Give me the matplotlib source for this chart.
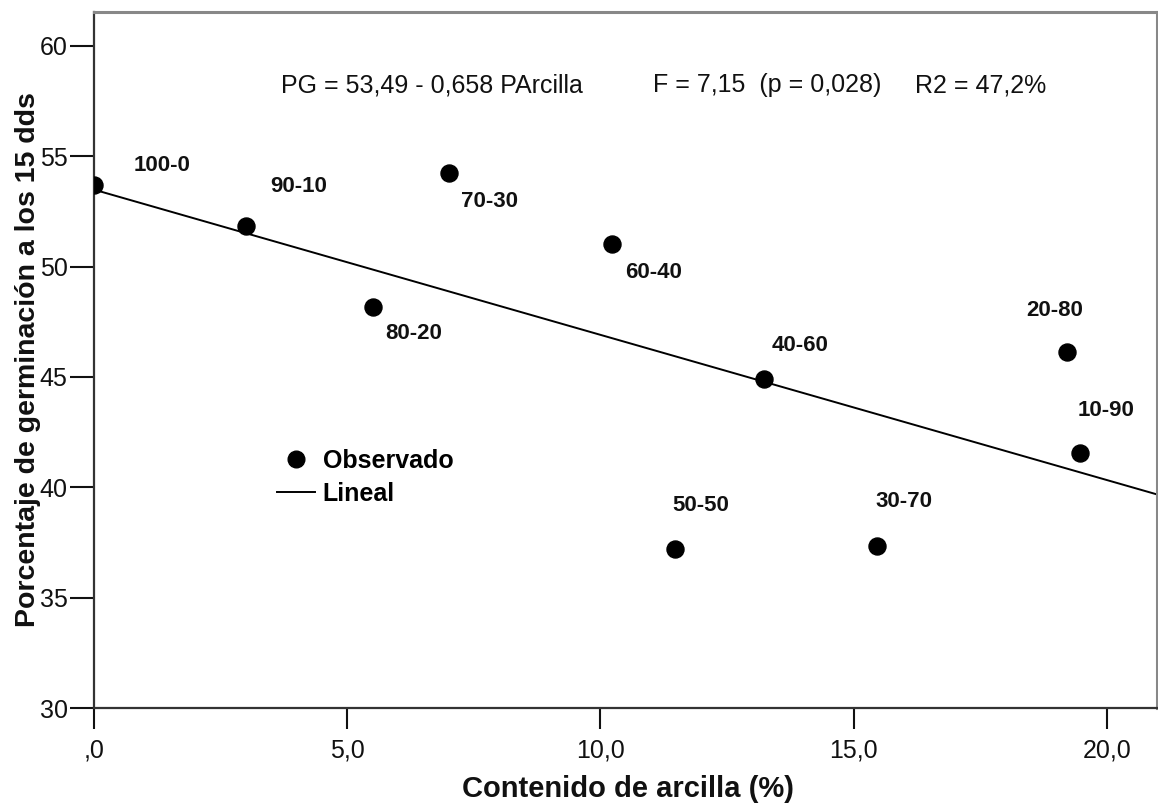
import matplotlib
matplotlib.use("Agg")
import matplotlib.pyplot as plt
from matplotlib.lines import Line2D

plt.rcParams['font.family'] = ['Liberation Sans', 'DejaVu Sans']

# Data
clay = [0.0, 3.0, 5.5, 7.0, 10.22, 13.23, 19.22, 19.46, 11.47, 15.47]
germ = [53.7, 51.84, 48.17, 54.25, 51.03, 44.91, 46.12, 41.55, 37.19, 37.35]
labels = ["100-0", "90-10", "80-20", "70-30", "60-40", "40-60", "20-80", "10-90", "50-50", "30-70"]
intercept = 53.49
slope = -0.658
x_ticks = [0, 5, 10, 15, 20]
x_ticklabels = [",0", "5,0", "10,0", "15,0", "20,0"]
y_ticks = [30, 35, 40, 45, 50, 55, 60]

# label offsets in pixels (styling)
offsets = [(68, 20), (53, 40), (41, -26), (41, -29), (42, -29), (36, 33), (-13, 42), (27, 43), (26, 44), (26, 44)]

W, H = 1158, 809
fig = plt.figure(figsize=(W / 100, H / 100), dpi=100)
fig.patch.set_facecolor('white')
ax = fig.add_axes([94 / W, (H - 708) / H, (1157 - 94) / W, (708 - 12) / H])

xmin, xmax = 0, 20.99
ax.set_xlim(xmin, xmax)
ax.set_ylim(30, 61.54)

sc = ax.scatter(clay, germ, s=150, color='black', zorder=3, clip_on=True)
xl = [xmin, xmax]
ln, = ax.plot(xl, [intercept + slope * v for v in xl], color='black', lw=1.4, zorder=2)

for (x, y, t, (dx, dy)) in zip(clay, germ, labels, offsets):
    ax.annotate(t, (x, y), xytext=(dx, dy), textcoords='offset pixels',
                ha='center', va='center', fontsize=16, fontweight='bold', color='#111111')

# equation text (figure pixel coords)
def ftxt(px, py, s, **kw):
    fig.text(px / W, 1 - py / H, s, **kw)

eqkw = dict(fontsize=18, va='baseline', ha='left', color='#111111')
ftxt(281, 92, "PG = 53,49 - 0,658 PArcilla", **eqkw)
ftxt(653, 92, "F = 7,15  (p = 0,028)", **eqkw)
ftxt(915, 92, "R2 = 47,2%", **eqkw)

ax.set_xticks(x_ticks)
ax.set_xticklabels(x_ticklabels)
ax.set_yticks(y_ticks)
ax.tick_params(axis='x', length=15, width=1.5, pad=7, labelsize=18, colors='#111111')
ax.tick_params(axis='y', length=17, width=1.5, pad=2, labelsize=18, colors='#111111')

for side in ['left', 'bottom']:
    ax.spines[side].set_linewidth(1.6)
    ax.spines[side].set_color('#333333')
for side in ['top', 'right']:
    ax.spines[side].set_linewidth(2.2)
    ax.spines[side].set_color('#888888')

ftxt(628, 797, "Contenido de arcilla (%)", fontsize=21, fontweight='bold', ha='center', va='baseline', color='#111111')
fig.text(35 / W, 1 - 360 / H, "Porcentaje de germinación a los 15 dds", fontsize=20.5, fontweight='bold',
         ha='center', va='baseline', rotation=90, rotation_mode='anchor', color='#111111')

h1 = Line2D([], [], marker='o', color='black', ls='none', markersize=12)
h2 = Line2D([], [], color='black', lw=1.4)
leg = fig.legend([h1, h2], ["Observado", "Lineal"], loc='upper left',
                 bbox_to_anchor=(277 / W, 1 - 449 / H), frameon=False,
                 borderpad=0, borderaxespad=0,
                 handlelength=1.5, handletextpad=0.32, labelspacing=0.36,
                 prop={'size': 18, 'weight': 'bold'})

fig.savefig("out.png", dpi=100, facecolor='white')
